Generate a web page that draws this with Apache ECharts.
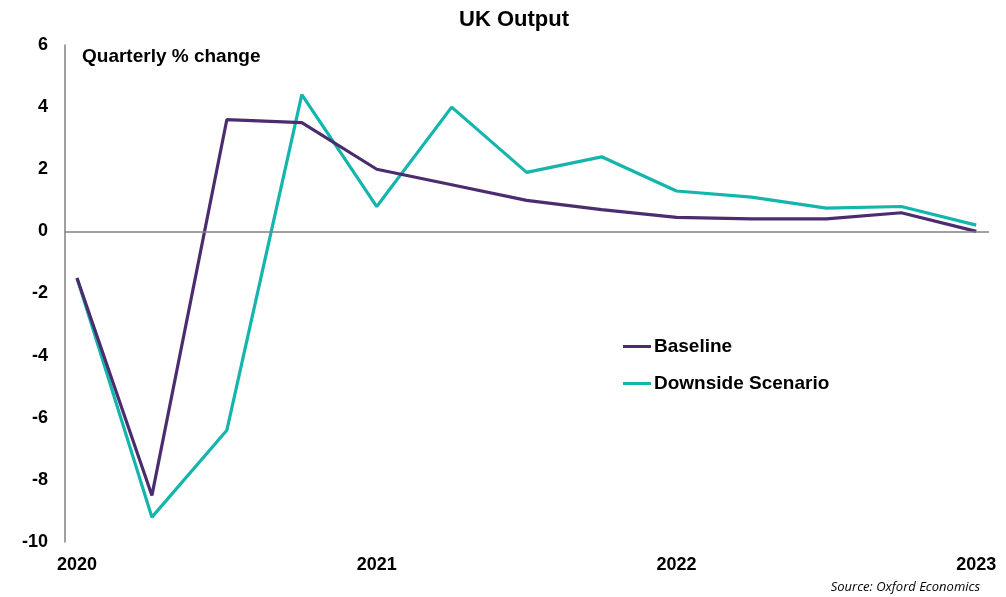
<!DOCTYPE html>
<html>
<head>
<meta charset="utf-8">
<script src="https://cdn.jsdelivr.net/npm/echarts@6/dist/echarts.min.js"></script>
<style>
  html, body { margin: 0; padding: 0; background: #fff; }
  #chart { width: 1006px; height: 597px; }
</style>
</head>
<body>
<div id="chart"></div>
<script>
// quarters from 2020 Q1 to 2023 Q1, x = quarter index
var quarters = [0, 1, 2, 3, 4, 5, 6, 7, 8, 9, 10, 11, 12];
var yearTicks = [0, 4, 8, 12];
var yearLabels = ['2020', '2021', '2022', '2023'];
var baseline = [-1.5, -8.5, 3.6, 3.5, 2.0, 1.5, 1.0, 0.7, 0.45, 0.4, 0.4, 0.6, 0.0];
var downside = [-1.5, -9.2, -6.4, 4.4, 0.8, 4.0, 1.9, 2.4, 1.3, 1.1, 0.75, 0.8, 0.2];

var font = 'Liberation Sans, Arial, sans-serif';

function pairs(vals) {
  return quarters.map(function (q, i) { return [q, vals[i]]; });
}

var chart = echarts.init(document.getElementById('chart'));
chart.setOption({
  animation: false,
  title: {
    text: 'UK Output',
    left: 514,
    textAlign: 'center',
    top: 9,
    padding: 0,
    textStyle: { fontFamily: font, fontSize: 22, fontWeight: 'bold', color: '#000' }
  },
  graphic: [
    {
      type: 'text', left: 82, top: 47,
      style: { text: 'Quarterly % change', font: 'bold 19px ' + font, fill: '#000' }
    },
    {
      type: 'text', right: 26, top: 581,
      style: { text: 'Source: Oxford Economics', font: 'italic 13px "Open Sans", sans-serif', fill: '#000' }
    }
  ],
  legend: {
    orient: 'vertical',
    left: 623,
    top: 337,
    padding: 0,
    itemWidth: 28,
    itemHeight: 3,
    itemGap: 18,
    icon: 'rect',
    textStyle: { fontFamily: font, fontSize: 19, fontWeight: 'bold', color: '#000', padding: [0, 0, 0, -2] },
    data: ['Baseline', 'Downside Scenario']
  },
  grid: { left: 65, right: 17, top: 45, bottom: 55 },
  xAxis: {
    type: 'value',
    min: -0.16,
    max: 12.17,
    axisLine: { show: false },
    axisTick: { show: false },
    splitLine: { show: false },
    axisLabel: {
      customValues: yearTicks,
      formatter: function (v) { return yearLabels[yearTicks.indexOf(v)]; },
      margin: 14,
      fontFamily: font, fontSize: 18, fontWeight: 'bold', color: '#000'
    }
  },
  yAxis: {
    type: 'value',
    min: -10,
    max: 6,
    interval: 2,
    axisLine: { show: true, onZero: false, lineStyle: { color: '#808080', width: 1.5 } },
    axisTick: { show: false },
    splitLine: { show: false },
    axisLabel: { margin: 17, fontFamily: font, fontSize: 18, fontWeight: 'bold', color: '#000' }
  },
  series: [
    {
      name: 'Baseline',
      type: 'line',
      data: pairs(baseline),
      showSymbol: false,
      color: '#4b2c6f',
      lineStyle: { width: 3.2 },
      z: 3,
      markLine: {
        silent: true,
        symbol: 'none',
        label: { show: false },
        lineStyle: { color: '#808080', width: 1.5, type: 'solid' },
        data: [{ yAxis: 0 }]
      }
    },
    {
      name: 'Downside Scenario',
      type: 'line',
      data: pairs(downside),
      showSymbol: false,
      color: '#14b5ad',
      lineStyle: { width: 3.2 },
      z: 2
    }
  ]
});
</script>
</body>
</html>
